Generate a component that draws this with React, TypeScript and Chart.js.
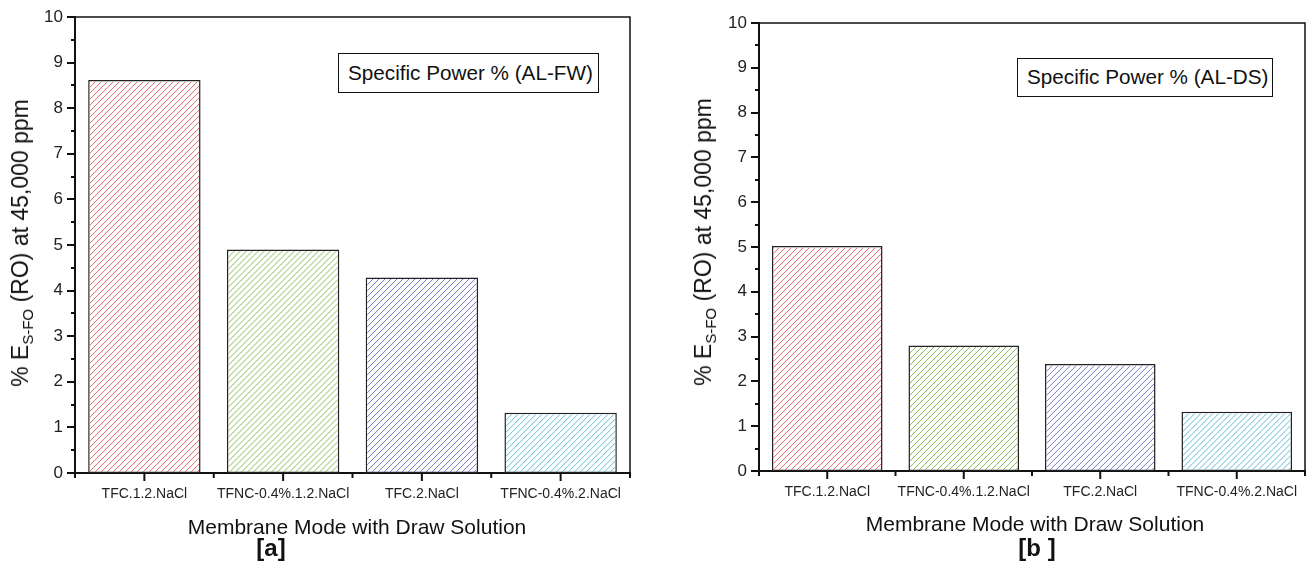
import React, { useEffect, useRef } from "react";
import { Chart, registerables } from "chart.js";

Chart.register(...registerables);

const categories = ["TFC.1.2.NaCl", "TFNC-0.4%.1.2.NaCl", "TFC.2.NaCl", "TFNC-0.4%.2.NaCl"];
const valuesFW = [8.62, 4.9, 4.29, 1.32];
const valuesDS = [5.02, 2.8, 2.39, 1.32];
const hatchColors = ["#e5686c", "#86bd58", "#7c7cc8", "#62bdd6"];
const yMin = 0;
const yMax = 10;
const yStep = 1;

const FONT = "'Liberation Sans', Arial, sans-serif";

const hatchPlugin = {
  id: "hatch",
  afterDatasetsDraw(chart: any) {
    const ctx = chart.ctx;
    const meta = chart.getDatasetMeta(0);
    meta.data.forEach((bar: any, i: number) => {
      const { x, y, base, width } = bar.getProps(["x", "y", "base", "width"], true);
      const bw = 1.5;
      const l = x - width / 2 + bw;
      const r = x + width / 2 - bw;
      const t = Math.min(y, base) + bw;
      const b = Math.max(y, base) - 1;
      const h = b - t;
      ctx.save();
      ctx.beginPath();
      ctx.rect(l, t, r - l, h);
      ctx.clip();
      ctx.strokeStyle = hatchColors[i % hatchColors.length];
      ctx.lineWidth = 1;
      ctx.beginPath();
      for (let k = l - h - 6; k < r + 6; k += 6) {
        ctx.moveTo(k, b);
        ctx.lineTo(k + h, t);
      }
      ctx.stroke();
      ctx.restore();
    });
  },
};

const framePlugin = {
  id: "frameTicks",
  afterDraw(chart: any) {
    const ctx = chart.ctx;
    const { left, right, top, bottom } = chart.chartArea;
    const ys = chart.scales.y;
    const xs = chart.scales.x;
    ctx.save();
    ctx.strokeStyle = "#111";
    ctx.lineWidth = 1.5;
    ctx.beginPath();
    ctx.moveTo(left, top);
    ctx.lineTo(right, top);
    ctx.lineTo(right, bottom);
    ctx.stroke();
    ctx.lineWidth = 2;
    ctx.beginPath();
    for (let v = yMin; v <= yMax + 1e-9; v += yStep / 2) {
      const yy = Math.round(ys.getPixelForValue(v));
      const major = Math.abs(v - Math.round(v)) < 1e-6;
      const len = major ? 8 : 4;
      ctx.moveTo(left - len, yy);
      ctx.lineTo(left, yy);
    }
    ctx.stroke();
    const n = categories.length;
    ctx.beginPath();
    for (let i = 0; i <= n; i++) {
      const xx = left + (i * (right - left)) / n;
      ctx.moveTo(xx, bottom);
      ctx.lineTo(xx, bottom + 5);
    }
    for (let i = 0; i < n; i++) {
      const xx = xs.getPixelForValue(i);
      ctx.moveTo(xx, bottom);
      ctx.lineTo(xx, bottom + 8);
    }
    ctx.stroke();
    ctx.restore();
  },
};

type Props = {
  values: number[];
  left: number;
  width: number;
  padLeft: number;
  padRight: number;
  padTop: number;
  xAxisHeight: number;
};

function BarPanel({ values, left, width, padLeft, padRight, padTop, xAxisHeight }: Props) {
  const ref = useRef<HTMLCanvasElement | null>(null);
  useEffect(() => {
    if (!ref.current) return;
    const chart = new Chart(ref.current, {
      type: "bar",
      data: {
        labels: categories,
        datasets: [
          {
            data: values,
            backgroundColor: "#ffffff",
            borderColor: "#222",
            borderWidth: 1.5,
            borderSkipped: false,
            barPercentage: 0.81,
            categoryPercentage: 1,
          },
        ],
      },
      options: {
        animation: false,
        responsive: false,
        maintainAspectRatio: false,
        layout: { padding: { left: padLeft, right: padRight, top: padTop, bottom: 0 } },
        plugins: { legend: { display: false }, tooltip: { enabled: false }, title: { display: false } },
        scales: {
          x: {
            grid: { display: false, drawTicks: true, tickLength: 8 },
            border: { display: true, color: "#111", width: 2 },
            ticks: { color: "#222", font: { family: FONT, size: 14 }, padding: 5, maxRotation: 0, autoSkip: false },
            afterFit: (s: any) => {
              s.height = xAxisHeight;
            },
          },
          y: {
            min: yMin,
            max: yMax,
            grid: { display: false, drawTicks: true, tickLength: 8 },
            border: { display: true, color: "#111", width: 2 },
            ticks: { stepSize: yStep, color: "#222", font: { family: FONT, size: 17 }, padding: 4 },
            afterFit: (s: any) => {
              s.width = 75;
            },
          },
        },
      },
      plugins: [hatchPlugin, framePlugin],
    });
    return () => chart.destroy();
  }, []);
  return (
    <canvas
      ref={ref}
      width={width}
      height={588}
      style={{ position: "absolute", left, top: 0, width, height: 588 }}
    />
  );
}

const textBase: React.CSSProperties = {
  position: "absolute",
  fontFamily: FONT,
  color: "#111",
  whiteSpace: "nowrap",
  lineHeight: 1,
};

function YTitle({ x, y }: { x: number; y: number }) {
  return (
    <div
      style={{
        ...textBase,
        left: x,
        top: y,
        fontSize: 23,
        transform: "translate(-50%, -50%) rotate(-90deg)",
      }}
    >
      % E<sub style={{ fontSize: 15, verticalAlign: "-5px" }}>S-FO</sub> (RO) at 45,000 ppm
    </div>
  );
}

function Centered({ x, y, size, bold, text }: { x: number; y: number; size: number; bold?: boolean; text: string }) {
  return (
    <div
      style={{
        ...textBase,
        left: x,
        top: y,
        fontSize: size,
        fontWeight: bold ? 700 : 400,
        transform: "translate(-50%, -50%)",
      }}
    >
      {text}
    </div>
  );
}

function LegendBox({ x, y, w, h, text }: { x: number; y: number; w: number; h: number; text: string }) {
  return (
    <div
      style={{
        ...textBase,
        left: x,
        top: y,
        width: w,
        height: h,
        boxSizing: "border-box",
        border: "1.5px solid #111",
        fontSize: 20.7,
        display: "flex",
        alignItems: "center",
        paddingLeft: 9,
        background: "#fff",
      }}
    >
      {text}
    </div>
  );
}

export default function App() {
  return (
    <div style={{ position: "fixed", left: 0, top: 0, width: 1314, height: 588, background: "#fff", overflow: "hidden" }}>
      <BarPanel values={valuesFW} left={0} width={660} padLeft={0} padRight={30} padTop={17} xAxisHeight={115} />
      <BarPanel values={valuesDS} left={660} width={654} padLeft={24} padRight={9} padTop={23} xAxisHeight={117} />
      <YTitle x={22} y={243} />
      <YTitle x={705} y={242} />
      <Centered x={357} y={526} size={21} text="Membrane Mode with Draw Solution" />
      <Centered x={1035} y={523} size={21} text="Membrane Mode with Draw Solution" />
      <Centered x={271} y={548} size={24} bold text="[a]" />
      <Centered x={1037} y={548} size={24} bold text="[b ]" />
      <LegendBox x={338} y={53} w={261} h={40} text="Specific Power % (AL-FW)" />
      <LegendBox x={1017} y={58} w={256} h={39} text="Specific Power % (AL-DS)" />
    </div>
  );
}
